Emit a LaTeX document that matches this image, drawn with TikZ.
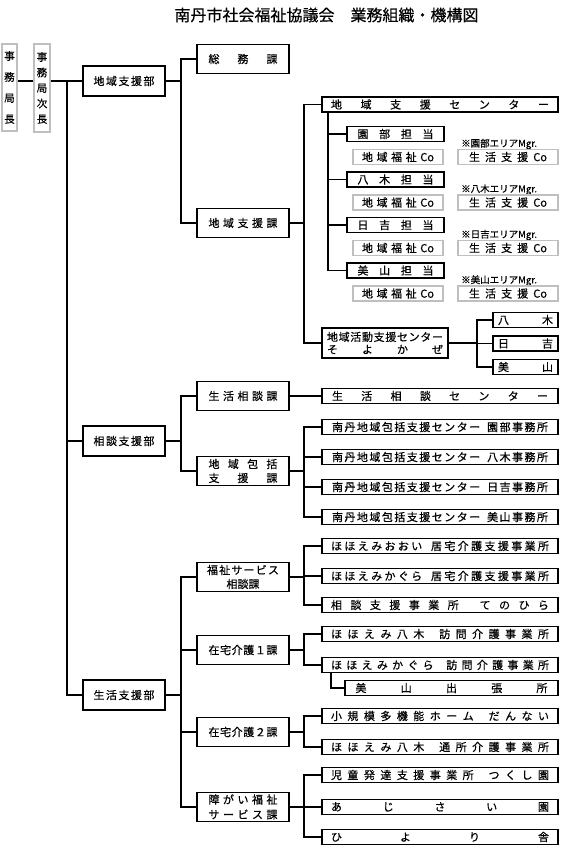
\documentclass[tikz,border=0pt]{standalone}
\usepackage{fontspec}
\setmainfont{Noto Sans CJK JP}[FakeBold=0.5]
\makeatletter
\def\sprd@endm{\sprd@end}
\newcommand\sprd[2]{\hbox to #1pt{\sprd@first#2\sprd@end}}
\def\sprd@first#1{#1\sprd@a}
\def\sprd@a#1{\def\sprd@tmp{#1}\ifx\sprd@tmp\sprd@endm\else\hfil#1\expandafter\sprd@a\fi}
\makeatother
\newcommand\gapA{{\hspace{4pt}}}
\begin{document}
\begin{tikzpicture}[x=1pt,y=-1pt,
  bx/.style={draw, line width=1.2pt, inner sep=0pt, font=\fontsize{11}{13}\selectfont},
  gbx/.style={draw=black!25, line width=1.1pt, inner sep=0pt, font=\fontsize{11}{13}\selectfont},
  dept/.style={bx, minimum width=82, minimum height=30},
  ka/.style={bx, minimum width=92, minimum height=29, align=center},
  lng/.style={bx, minimum width=236, minimum height=15},
  tan/.style={bx, minimum width=97, minimum height=15},
  coa/.style={gbx, minimum width=90, minimum height=15},
  cob/.style={gbx, minimum width=100, minimum height=15},
  sml/.style={bx, minimum width=65, minimum height=15},
  mgr/.style={anchor=west, inner sep=0pt, font=\fontsize{9.5}{11}\selectfont},
  ln/.style={line width=1.2pt}]
\path[use as bounding box] (0,0) rectangle (560,846);

\node (title) at (326.5,15) {\fontsize{16}{18}\selectfont 南丹市社会福祉協議会　業務組織・機構図};

% top posts
\node[gbx, minimum width=15, minimum height=87, align=center, font=\fontsize{10.5}{21}\selectfont] (jk) at (9.5,87.5) {事\\務\\局\\長};
\node[gbx, minimum width=16, minimum height=88, align=center, font=\fontsize{10.5}{15.5}\selectfont] (jj) at (42,88) {事\\務\\局\\次\\長};

% departments
\node[dept] (bu) at (124,81) {\sprd{61}{地域支援部}};
\node[dept] (sod) at (124,441) {\sprd{61}{相談支援部}};
\node[dept] (sei) at (124,695) {\sprd{61}{生活支援部}};

% sections
\node[ka] (somu) at (243,59) {\sprd{69}{総務課}};
\node[ka] (chiiki) at (243,223) {\sprd{69}{地域支援課}};
\node[ka] (seiso) at (243,396) {\sprd{69}{生活相談課}};
\node[ka, font=\fontsize{11}{14}\selectfont] (houk) at (243,471) {\sprd{69}{地域包括}\\\sprd{69}{支援課}};
\node[ka, font=\fontsize{11}{14}\selectfont] (fuku) at (243,577) {\sprd{72}{福祉サービス}\\相談課};
\node[ka] (zai1) at (243,650) {\sprd{69}{在宅介護１課}};
\node[ka] (zai2) at (243,732) {\sprd{69}{在宅介護２課}};
\node[ka, font=\fontsize{11}{15}\selectfont] (shog) at (243,807) {\sprd{69}{障がい福祉}\\\sprd{69}{サービス課}};

% 地域支援課 children
\node[lng] (csc) at (440,104.5) {\sprd{218}{地域支援センター}};
\node[tan] (ts) at (395.5,134) {\sprd{76}{園部担当}};
\node[tan] (ty) at (395.5,179.5) {\sprd{76}{八木担当}};
\node[tan] (th) at (395.5,225) {\sprd{76}{日吉担当}};
\node[tan] (tm) at (395.5,270.5) {\sprd{76}{美山担当}};
\node[mgr] (ms) at (461,144) {※園部エリアMgr.};
\node[mgr] (my) at (461,189.5) {※八木エリアMgr.};
\node[mgr] (mh) at (461,235) {※日吉エリアMgr.};
\node[mgr] (mm) at (461,280.5) {※美山エリアMgr.};
\node[coa] (cs1) at (398,157) {\sprd{72}{地域福祉{Co}}};
\node[cob] (cs2) at (508,157) {\sprd{78}{生活支援{Co}}};
\node[coa] (cy1) at (398,202.5) {\sprd{72}{地域福祉{Co}}};
\node[cob] (cy2) at (508,202.5) {\sprd{78}{生活支援{Co}}};
\node[coa] (ch1) at (398,248) {\sprd{72}{地域福祉{Co}}};
\node[cob] (ch2) at (508,248) {\sprd{78}{生活支援{Co}}};
\node[coa] (cm1) at (398,293.5) {\sprd{72}{地域福祉{Co}}};
\node[cob] (cm2) at (508,293.5) {\sprd{78}{生活支援{Co}}};
\node[bx, minimum width=126, minimum height=30, align=center, font=\fontsize{11}{12.5}\selectfont] (soyo) at (385,343) {\sprd{116}{地域活動支援センター}\\\sprd{116}{そよかぜ}};
\node[sml] (sy) at (525.5,320) {\sprd{55}{八木}};
\node[sml] (sh) at (525.5,343.5) {\sprd{55}{日吉}};
\node[sml] (sm) at (525.5,367) {\sprd{55}{美山}};

% 相談支援部 children
\node[lng] (ssc) at (440,396) {\sprd{216}{生活相談センター}};
\node[lng] (h1) at (440,427) {\sprd{216}{南丹地域包括支援センター\gapA 園部事務所}};
\node[lng] (h2) at (440,457) {\sprd{216}{南丹地域包括支援センター\gapA 八木事務所}};
\node[lng] (h3) at (440,487) {\sprd{216}{南丹地域包括支援センター\gapA 日吉事務所}};
\node[lng] (h4) at (440,517) {\sprd{216}{南丹地域包括支援センター\gapA 美山事務所}};

% 生活支援部 children
\node[lng] (f1) at (440,546) {\sprd{218}{ほほえみおおい\gapA 居宅介護支援事業所}};
\node[lng] (f2) at (440,576) {\sprd{218}{ほほえみかぐら\gapA 居宅介護支援事業所}};
\node[lng] (f3) at (440,605) {\sprd{218}{相談支援事業所\gapA てのひら}};
\node[lng] (za) at (440,634) {\sprd{218}{ほほえみ八木\gapA 訪問介護事業所}};
\node[lng] (hkh) at (440,665) {\sprd{218}{ほほえみかぐら\gapA 訪問介護事業所}};
\node[bx, minimum width=213, minimum height=15] (mds) at (451.5,688) {\sprd{192}{美山出張所}};
\node[lng] (zb1) at (440,716) {\sprd{218}{小規模多機能ホーム\gapA だんない}};
\node[lng] (zb2) at (440,747) {\sprd{218}{ほほえみ八木\gapA 通所介護事業所}};
\node[lng] (s1) at (440,775) {\sprd{218}{児童発達支援事業所\gapA つくし園}};
\node[lng] (s2) at (440,807) {\sprd{218}{あじさい園}};
\node[lng] (s3) at (440,837) {\sprd{218}{ひより舎}};

% trunk coordinates
\coordinate (t0) at (67,81);
\coordinate (t1) at (181,0);
\coordinate (t2) at (304,0);
\coordinate (t3) at (328,0);
\coordinate (t4) at (477,0);
\coordinate (t5) at (331,0);

% connectors
\draw[ln] (jk.east |- bu.west) -- (jj.west |- bu.west);
\draw[ln] (jj.east |- bu.west) -- (bu.west);
\draw[ln] (t0) |- (sei.west);
\draw[ln] (t0 |- sod.west) -- (sod.west);

\draw[ln] (bu.east) -- (bu.east -| t1);
\draw[ln] (somu.west) -- (somu.west -| t1) -- (chiiki.west -| t1) -- (chiiki.west);
\draw[ln] (sod.east) -- (sod.east -| t1);
\draw[ln] (seiso.west) -- (seiso.west -| t1) -- (houk.west -| t1) -- (houk.west);
\draw[ln] (sei.east) -- (sei.east -| t1);
\draw[ln] (fuku.west) -- (fuku.west -| t1) -- (shog.west -| t1) -- (shog.west);
\draw[ln] (zai1.west -| t1) -- (zai1.west);
\draw[ln] (zai2.west -| t1) -- (zai2.west);

\draw[ln] (chiiki.east) -- (chiiki.east -| t2);
\draw[ln] (csc.west) -- (csc.west -| t2) -- (soyo.west -| t2) -- (soyo.west);
\draw[ln] (csc.south -| t3) -- (tm.west -| t3) -- (tm.west);
\draw[ln] (ts.west -| t3) -- (ts.west);
\draw[ln] (ty.west -| t3) -- (ty.west);
\draw[ln] (th.west -| t3) -- (th.west);
\draw[ln] (soyo.east) -- (soyo.east -| t4);
\draw[ln] (sy.west) -- (sy.west -| t4) -- (sm.west -| t4) -- (sm.west);
\draw[ln] (sh.west -| t4) -- (sh.west);

\draw[ln] (seiso.east) -- (ssc.west);
\draw[ln] (houk.east) -- (houk.east -| t2);
\draw[ln] (h1.west) -- (h1.west -| t2) -- (h4.west -| t2) -- (h4.west);
\draw[ln] (h2.west -| t2) -- (h2.west);
\draw[ln] (h3.west -| t2) -- (h3.west);

\draw[ln] (fuku.east) -- (fuku.east -| t2);
\draw[ln] (f1.west) -- (f1.west -| t2) -- (f3.west -| t2) -- (f3.west);
\draw[ln] (f2.west -| t2) -- (f2.west);
\draw[ln] (zai1.east) -- (zai1.east -| t2);
\draw[ln] (za.west) -- (za.west -| t2) -- (hkh.west -| t2) -- (hkh.west);
\draw[ln] (hkh.south -| t5) -- (mds.west -| t5) -- (mds.west);
\draw[ln] (zai2.east) -- (zai2.east -| t2);
\draw[ln] (zb1.west) -- (zb1.west -| t2) -- (zb2.west -| t2) -- (zb2.west);
\draw[ln] (shog.east) -- (shog.east -| t2);
\draw[ln] (s1.west) -- (s1.west -| t2) -- (s3.west -| t2) -- (s3.west);
\draw[ln] (s2.west -| t2) -- (s2.west);
\end{tikzpicture}
\end{document}
